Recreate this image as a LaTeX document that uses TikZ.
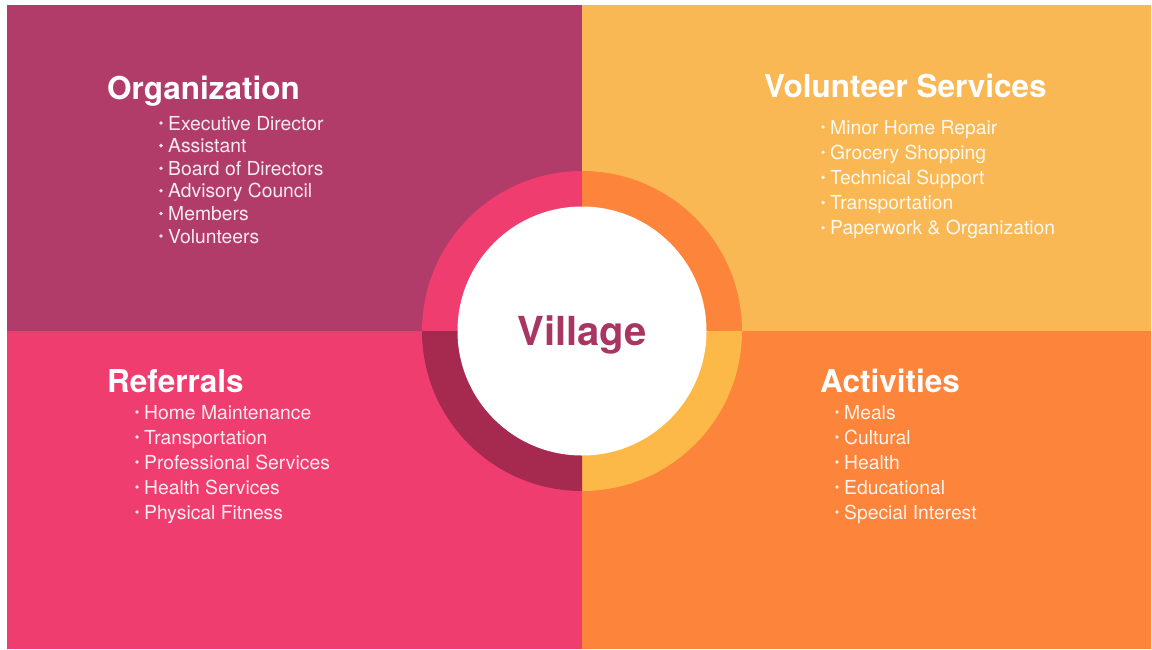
\documentclass[tikz,border=0pt]{standalone}
\usepackage{fontspec}
\setmainfont{TeX Gyre Heros}
\usetikzlibrary{calc,positioning}

\definecolor{bgTL}{HTML}{B13B69}
\definecolor{bgTR}{HTML}{FAB854}
\definecolor{bgBL}{HTML}{EF3D6F}
\definecolor{bgBR}{HTML}{FD843B}
\definecolor{ringBL}{HTML}{A62A4F}
\definecolor{ringBR}{HTML}{FDB947}
\definecolor{hubtext}{HTML}{A93563}

\tikzstyle{title}=[anchor=base west,inner sep=0pt,text=white,font=\bfseries\fontsize{31.5}{38}\selectfont]
\tikzstyle{item}=[anchor=base west,inner sep=0pt,text=white,text opacity=.9,font=\fontsize{19.3}{23}\selectfont]
\tikzstyle{dot}=[fill=white,fill opacity=.85]
\tikzstyle{hub}=[circle,fill=white,minimum size=249pt,inner sep=0pt,text depth=0pt,text=hubtext,font=\bfseries\fontsize{40}{46}\selectfont]

\begin{document}
\begin{tikzpicture}[x=1pt,y=-1pt]
        \useasboundingbox (0,0) rectangle (1152,649);
        % four coloured quarters
        \fill[bgTL] (7,5) rectangle (582,331);
        \fill[bgTR] (582,5) rectangle (1151,331);
        \fill[bgBL] (7,331) rectangle (582,649);
        \fill[bgBR] (582,331) rectangle (1151,649);
        % ring round the centre
        \coordinate (c) at (582,331);
        \foreach \s/\col in {180/bgBL,270/bgBR,0/ringBR,90/ringBL}
          \fill[\col] (c) -- ++(\s:160) arc[start angle=\s,delta angle=90,radius=160] -- cycle;
        \node[hub] (hub) at (c) {Village};

        \node[title] (org) at (107,99) {Organization};
        \foreach \t [count=\i] in {Executive Director,Assistant,Board of Directors,Advisory Council,Members,Volunteers} {
          \node[item] (org\i) at (168,{130+22.6*(\i-1)}) {\t};
          \fill[dot] ($(org\i.base west)+(-7,-7)$) circle (1.9);
        }

        \node[title] (vol) at (764,97) {Volunteer Services};
        \foreach \t [count=\i] in {Minor Home Repair,Grocery Shopping,Technical Support,Transportation,Paperwork \& Organization} {
          \node[item] (vol\i) at (830,{134+25.2*(\i-1)}) {\t};
          \fill[dot] ($(vol\i.base west)+(-7,-7)$) circle (1.9);
        }

        \node[title] (ref) at (107,392) {Referrals};
        \foreach \t [count=\i] in {Home Maintenance,Transportation,Professional Services,Health Services,Physical Fitness} {
          \node[item] (ref\i) at (144,{419+25*(\i-1)}) {\t};
          \fill[dot] ($(ref\i.base west)+(-7,-7)$) circle (1.9);
        }

        \node[title] (act) at (820,392) {Activities};
        \foreach \t [count=\i] in {Meals,Cultural,Health,Educational,Special Interest} {
          \node[item] (act\i) at (844,{419+25*(\i-1)}) {\t};
          \fill[dot] ($(act\i.base west)+(-7,-7)$) circle (1.9);
        }
      \end{tikzpicture}
\end{document}
